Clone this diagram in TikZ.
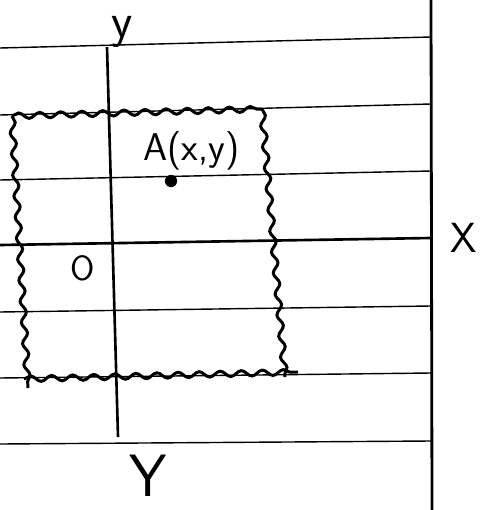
\documentclass[tikz,border=0pt]{standalone}
\usepackage{tikz}
\usetikzlibrary{decorations.pathmorphing,positioning}

\begin{document}
\begin{tikzpicture}[
  x=0.02cm, y=-0.02cm,
  ruled/.style={line width=0.8pt},
  axis/.style={line width=1.5pt},
  wavy/.style={line width=1.7pt, decorate, decoration={snake, segment length=12pt, amplitude=1.6pt}},
  letter/.style={font=\sffamily\fontsize{#1}{#1}\selectfont, inner sep=0pt},
  dot/.style={circle, fill, inner sep=0pt, minimum size=7pt}
]
  \useasboundingbox (0,0) rectangle (494,510);
  % ruled paper
  \foreach \l/\r in {48/37, 115/104, 180/171, 312/306, 378/373, 444/441}
    \draw[ruled] (0,\l) -- (431,\r);
  \draw[line width=1.6pt] (431,0) -- (432,510);

  % axes
  \coordinate (xstart) at (0,245);
  \coordinate (xend) at (431,238);
  \coordinate (ytop) at (107,47);
  \coordinate (ybot) at (118,437);
  \draw[axis] (xstart) -- (xend);
  \draw[axis] (ytop) -- (ybot);

  % wavy square
  \coordinate (tl) at (12,116);
  \coordinate (tr) at (262,109);
  \coordinate (br) at (285,377);
  \coordinate (bl) at (24,379);
  \draw[wavy] (tl) -- (tr);
  \draw[wavy] (tr) -- (br);
  \draw[wavy] (bl) -- (298,372);
  \draw[wavy] (tl) -- (28,388);

  % labels
  \node[letter=28] (ylabel) at (122,32) {y};
  \node[letter=34] (ylow) at (148,476) {Y};
  \node[letter=24] (xlabel) at (464,238) {X};
  \node[letter=20] (orig) at (83,268) {O};
  \node[dot] (A) at (171,181) {};
  \node[letter=22, above right=0.12cm and -0.65cm of A] (Alabel) {A(x,y)};
\end{tikzpicture}
\end{document}
